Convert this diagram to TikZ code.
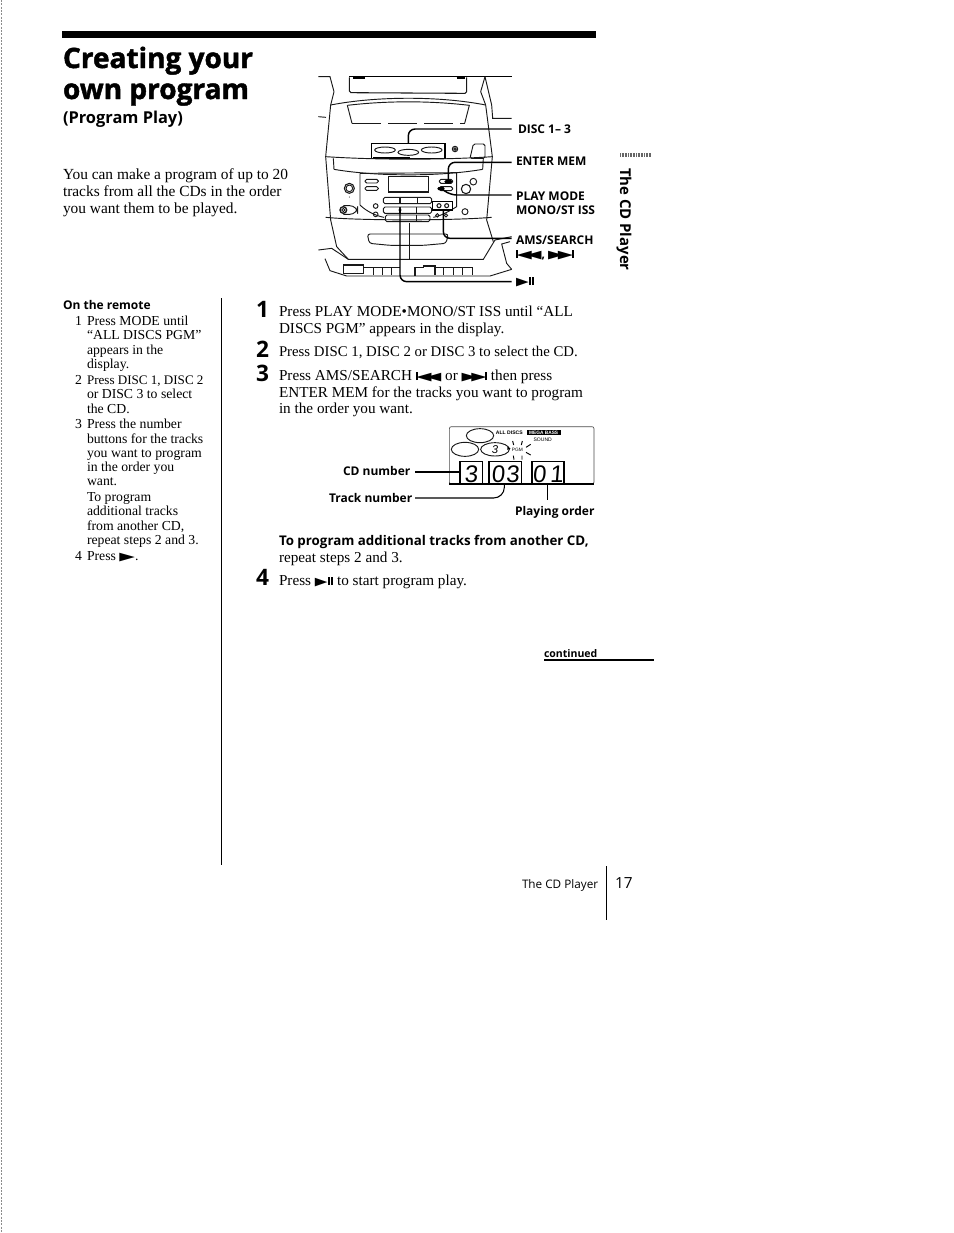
\documentclass[tikz,border=0pt]{standalone}
\usepackage{graphicx}
\usepackage{fontspec}
\setmainfont{Liberation Serif}
\newfontfamily\hd{Open Sans}
\newfontfamily\hdx{Open Sans}[BoldFeatures={FakeBold=1.6}]
\newfontfamily\sym{DejaVu Sans}
\newfontfamily\dgt{Liberation Sans}
\newcommand{\prevS}{\scalebox{1.75}[1]{\sym\rule{0.09em}{0.7em}\kern-0.06em ◀\kern-0.28em◀}}
\newcommand{\nextS}{\scalebox{1.75}[1]{\sym ▶\kern-0.28em▶\kern-0.06em\rule{0.09em}{0.7em}}}
\newcommand{\playS}{\scalebox{1.45}[1]{\sym ▶\kern0.02em\rule{0.12em}{0.7em}\kern0.09em\rule{0.12em}{0.7em}}}
\tikzset{
 lbl/.style={inner sep=0pt,outer sep=0pt,anchor=base west},
 bodyt/.style={lbl,font=\fontsize{11.4}{13}\selectfont},
 remt/.style={lbl,font=\fontsize{10.3}{12}\selectfont},
 boldl/.style={lbl,font=\hd\bfseries\fontsize{9}{11}\selectfont},
 stepn/.style={lbl,font=\hd\bfseries\fontsize{17}{20}\selectfont},
 thin1/.style={line width=0.45pt},
 lead/.style={line width=1.1pt,rounded corners=5pt},
 dev/.style={line width=0.7pt,black!90},
 devr/.style={dev,rounded corners=1.2pt},
 seg/.style={lbl,anchor=base,font=\dgt\fontsize{18}{18}\selectfont,xslant=0.08},
}
\begin{document}
\begin{tikzpicture}[x=0.75pt,y=-0.75pt]
\fill[white] (0,0) rectangle (954,1233);
\useasboundingbox (0,0) rectangle (954,1233);
% scan edge
\draw[black!45,line width=0.6pt,dash pattern=on 1.5pt off 1pt] (1,0) -- (1,1233);
% header
\fill[black] (62,31) rectangle (596,38);
\node[lbl,font=\hdx\bfseries\fontsize{21}{26}\selectfont] (title1) at (63,68) {Creating your};
\node[lbl,font=\hdx\bfseries\fontsize{21}{26}\selectfont] (title2) at (63,99) {own program};
\node[lbl,font=\hd\bfseries\fontsize{12.3}{14}\selectfont] (subt) at (63,123) {(Program Play)};
\node[bodyt,font=\fontsize{11.55}{13}\selectfont] (i1) at (63,179) {You can make a program of up to 20};
\node[bodyt,font=\fontsize{11.55}{13}\selectfont] (i2) at (63,196.5) {tracks from all the CDs in the order};
\node[bodyt,font=\fontsize{11.55}{13}\selectfont] (i3) at (63,213) {you want them to be played.};
% remote column
\node[boldl] (rh) at (63,309) {On the remote};
\draw[thin1] (221,298) -- (221,865);
\node[remt] (r1n) at (75,325) {1};
\node[remt] (r1a) at (87,325) {Press MODE until};
\node[remt] (r1b) at (87,339.5) {“ALL DISCS PGM”};
\node[remt] (r1c) at (87,354) {appears in the};
\node[remt] (r1d) at (87,368.5) {display.};
\node[remt] (r2n) at (75,384) {2};
\node[remt,font=\fontsize{9.8}{12}\selectfont] (r2a) at (87,384) {Press DISC 1, DISC 2};
\node[remt] (r2b) at (87,398.5) {or DISC 3 to select};
\node[remt] (r2c) at (87,413) {the CD.};
\node[remt] (r3n) at (75,428) {3};
\node[remt] (r3a) at (87,428) {Press the number};
\node[remt] (r3b) at (87,443) {buttons for the tracks};
\node[remt] (r3c) at (87,457) {you want to program};
\node[remt] (r3d) at (87,471) {in the order you};
\node[remt] (r3e) at (87,485.5) {want.};
\node[remt] (r3f) at (87,501) {To program};
\node[remt] (r3g) at (87,515.5) {additional tracks};
\node[remt] (r3h) at (87,530) {from another CD,};
\node[remt] (r3i) at (87,544.5) {repeat steps 2 and 3.};
\node[remt] (r4n) at (75,560) {4};
\node[remt] (r4a) at (87,560) {Press \scalebox{1.6}[0.9]{\sym\fontsize{9.5}{9}\selectfont ▶}.};
% steps
\node[stepn] (s1) at (256,317) {1};
\node[stepn] (s2) at (256,357) {2};
\node[stepn] (s3) at (256,381) {3};
\node[stepn] (s4) at (256,585) {4};
\node[bodyt] (t1a) at (279,316) {Press PLAY MODE•MONO/ST ISS until “ALL};
\node[bodyt] (t1b) at (279,333) {DISCS PGM” appears in the display.};
\node[bodyt,font=\fontsize{11.1}{13}\selectfont] (t2a) at (279,356) {Press DISC 1, DISC 2 or DISC 3 to select the CD.};
\node[bodyt] (t3a) at (279,380) {Press AMS/SEARCH {\fontsize{8.5}{9}\selectfont\prevS} or {\fontsize{8.5}{9}\selectfont\nextS} then press};
\node[bodyt] (t3b) at (279,397) {ENTER MEM for the tracks you want to program};
\node[bodyt] (t3c) at (279,413) {in the order you want.};
\node[lbl,font=\hd\bfseries\fontsize{10}{12}\selectfont] (addh) at (279,545) {To program additional tracks from another CD,};
\node[bodyt] (addt) at (279,562) {repeat steps 2 and 3.};
\node[bodyt] (t4a) at (279,585) {Press {\fontsize{8.5}{9}\selectfont\playS} to start program play.};
% continued
\node[lbl,font=\hd\bfseries\fontsize{7.9}{10}\selectfont] (cont) at (544,657) {continued};
\draw[line width=0.8pt] (544,660) -- (654,660);
% footer
\node[lbl,font=\hd\fontsize{8.8}{11}\selectfont] (foot) at (522,888) {The CD Player};
\node[lbl,font=\hd\fontsize{11.5}{14}\selectfont] (pg) at (615,888) {17};
\draw[thin1] (606,866) -- (606,920);
% side tab
\draw[black!60,line width=3pt,dash pattern=on 0.7pt off 0.5pt] (620,155) -- (651,155);
\node[lbl,rotate=-90,font=\hd\bfseries\fontsize{11.2}{14}\selectfont] (side) at (620,168) {The CD Player};
% device, drawn in 3x coordinates
\begin{scope}[shift={(310,60)},x=0.25pt,y=-0.25pt]
 % handles and top
 \draw[dev] (25,50) -- (60,50) -- (72,95);
 \draw[dev] (525,50) -- (512,95);
 \draw[line width=0.8pt] (118,50) -- (605,50);
 \draw[line width=1.6pt] (130,53) -- (165,53) (440,53) -- (465,53);
 \draw[devr,line width=0.8pt] (118,52) -- (118,98) -- (470,100) -- (470,52);
 % cabinet
 \draw[dev] (72,95) -- (62,135) -- (47,290) -- (62,480);
 \draw[dev] (512,95) -- (527,135) -- (547,290) -- (530,480);
 \draw[dev] (525,50) -- (545,135) -- (548,175) -- (605,175);
 \draw[dev] (25,170) -- (48,172);
 \draw[dev] (62,135) .. controls (200,108) and (390,108) .. (527,135);
 % window
 \draw[dev] (112,136) .. controls (230,122) and (360,122) .. (478,136) -- (464,190);
 \draw[dev] (112,136) -- (126,190);
 \draw[dev,line width=0.4pt,dash pattern=on 22pt off 5pt] (126,190) -- (464,190);
 % disc panel
 \draw[line width=1.2pt,fill=white] (185,250) rectangle (405,296);
 \fill (188,291) rectangle (300,295);
 \draw[dev] (225,270) ellipse (31 and 9);
 \draw[dev] (295,277) ellipse (31 and 9);
 \draw[dev] (365,270) ellipse (31 and 9);
 \draw[dev,line width=0.8pt] (435,267) circle (8);
 \draw[dev] (435,267) circle (4);
 \draw[devr] (490,252) -- (525,252) -- (525,295) -- (480,295) -- cycle;
 % bands
 \draw[dev] (47,290) .. controls (200,300) and (400,300) .. (547,290);
 \draw[dev] (72,328) .. controls (200,350) and (390,350) .. (518,328);
 \draw[dev] (70,295) -- (72,328) (520,295) -- (518,328);
 % control panel
 \draw[dev] (150,340) -- (440,338) -- (440,440) .. controls (400,465) and (380,470) .. (370,472);
 \draw[dev] (150,340) -- (150,435) .. controls (170,455) and (200,468) .. (222,472);
 \draw[devr] (165,358) rectangle (205,369);
 \draw[devr] (165,380) rectangle (205,391);
 \draw[dev,line width=0.8pt] (235,350) rectangle (355,396);
 \draw[devr] (388,358) rectangle (428,370);
 \draw[devr] (388,380) rectangle (428,392);
 \fill (415,365) ellipse (12 and 6);
 \fill (393,386) ellipse (11 and 6);
 \draw[dev,line width=0.8pt] (118,385) circle (15);
 \draw[dev] (118,385) circle (10);
 \fill (118,411) circle (1.5);
 \draw[dev,line width=0.8pt] (468,387) circle (14);
 \draw[dev] (490,365) circle (10);
 \draw[dev,rounded corners=6pt] (100,437) -- (143,437) -- (143,463) -- (100,463);
 \draw[dev,line width=1pt] (100,450) circle (10);
 \draw[dev] (100,450) circle (5);
 \draw[dev] (465,455) circle (9);
 \draw[dev] (197,438) circle (7);
 \draw[dev] (197,463) circle (7);
 % cassette keys
 \draw[devr] (220,412) rectangle (365,431);
 \draw[devr] (220,441) rectangle (365,460);
 \draw[devr] (226,465) rectangle (360,485);
 \draw[dev,line width=0.8pt] (270,412) -- (270,431) (322,412) -- (322,431);
 \draw[dev,line width=0.8pt] (270,441) -- (270,460) (320,441) -- (320,460);
 \draw[dev,line width=0.8pt] (320,465) -- (320,485);
 \draw[line width=1.2pt,fill=white] (368,425) rectangle (428,450);
 \draw[dev,line width=0.8pt] (387,437) circle (6);
 \draw[dev,line width=0.8pt] (410,437) circle (6);
 \draw[dev] (382,466) circle (5);
 \draw[dev] (408,466) circle (5);
 % lower body
 \draw[dev] (47,472) .. controls (150,482) and (430,482) .. (545,472);
 \draw[dev,rounded corners=2pt] (172,522) -- (415,522) -- (408,550) -- (340,556) -- (240,556) -- (178,550) -- cycle;
 \draw[dev] (62,480) -- (80,560) -- (115,598) -- (520,598) -- (555,540) -- (605,530);
 \draw[dev] (25,570) -- (65,565) -- (115,598);
 \draw[dev] (530,480) -- (550,545);
 \draw[dev] (605,628) -- (590,610) -- (575,552) -- (600,545);
 \draw[dev] (45,596) -- (60,632) -- (110,648) -- (540,648) -- (605,628);
 \draw[dev,line width=0.8pt] (100,615) -- (160,615) -- (160,640) -- (100,640) -- cycle;
 \draw[dev,line width=0.8pt] (160,622) -- (270,622) (190,622) -- (190,645) (218,622) -- (218,645) (245,622) -- (245,645);
 \draw[dev,line width=0.8pt] (315,622) -- (340,622) -- (340,618) -- (375,618) -- (375,622) -- (488,622) -- (488,645);
 \draw[dev,line width=0.8pt] (315,622) -- (315,647) (375,622) -- (375,645) (400,622) -- (400,645) (430,622) -- (430,645) (458,622) -- (458,645);
 \draw[dev] (298,488) -- (298,598);
 % leaders
 \coordinate (ldisc) at (605,207);
 \coordinate (lenter) at (605,307);
 \coordinate (lplay) at (605,405);
 \coordinate (lams) at (605,535);
 \coordinate (lpp) at (605,665);
 \draw[lead] (295,250) -- (295,207) -- (ldisc);
 \draw[lead] (415,365) -- (415,307) -- (lenter);
 \draw[lead] (395,386) -- (420,405) -- (lplay);
 \draw[lead] (400,450) -- (400,535) -- (lams);
 \fill (270,450) circle (5);
 \draw[lead] (270,450) -- (270,665) -- (lpp);
\end{scope}
\node[boldl] (ld1) at (518,133.5) {DISC 1– 3};
\node[boldl] (ld2) at (516,165) {ENTER MEM};
\node[boldl] (ld3) at (516,200) {PLAY MODE};
\node[boldl] (ld4) at (516,214) {MONO/ST ISS};
\node[boldl] (ld5) at (516,244) {AMS/SEARCH};
\node[boldl] (ld6) at (516,258) {{\fontsize{8.5}{9}\selectfont\prevS}, {\fontsize{8.5}{9}\selectfont\nextS}};
\node[boldl] (ld7) at (516,285) {{\fontsize{8.5}{9}\selectfont\playS}};
% display diagram, 3x coordinates
\begin{scope}[shift={(320,415)},x=0.25pt,y=-0.25pt]
 \draw[line width=0.5pt,rounded corners=1.5pt,black!70] (388,35) rectangle (822,207);
 \draw[dev] (480,62) ellipse (41 and 21);
 \draw[dev] (435,103) ellipse (41 and 21);
 \draw[dev] (525,103) ellipse (43 and 20);
 \node[lbl,anchor=center,font=\dgt\itshape\fontsize{8.5}{9}\selectfont] (cd3) at (525,104) {3};
 \node[lbl,anchor=center,font=\dgt\bfseries\fontsize{3.8}{4}\selectfont] (alld) at (568,53) {ALL DISCS};
 \fill[black] (620,45) rectangle (722,60);
 \node[lbl,anchor=center,text=white,font=\dgt\bfseries\fontsize{3.6}{4}\selectfont] (mega) at (671,52.5) {MEGA BASS};
 \node[lbl,anchor=center,font=\dgt\fontsize{3.8}{4}\selectfont] (snd) at (668,73) {SOUND};
 \node[lbl,anchor=center,font=\dgt\fontsize{3.6}{4}\selectfont] (pgm) at (592,105) {PGM};
 \draw[line width=0.7pt] (578,78) -- (581,90) (607,78) -- (604,90) (632,88) -- (618,97) (632,120) -- (618,112) (580,122) -- (582,134) (606,122) -- (606,134);
 \fill (572,100) -- (562,95) -- (562,105) -- cycle;
 % digit boxes
 \draw[line width=0.9pt] (487,207) -- (487,140) -- (420,140) -- (420,207);
 \draw[line width=0.9pt] (605,207) -- (605,140) -- (507,140) -- (507,207);
 \draw[line width=0.9pt] (732,207) -- (732,140) -- (636,140) -- (636,207);
 \draw[line width=1pt] (388,207) -- (822,207);
 \node[seg] (d1) at (453,201) {3};
 \node[seg] (d2) at (556,201) {0\kern1pt 3};
 \node[seg] (d3) at (684,201) {0\kern3pt 1};
 \coordinate (lcd) at (285,171);
 \coordinate (ltr) at (285,249);
 \coordinate (lpo) at (683,255);
 \draw[line width=1pt] (lcd) -- (420,171);
 \draw[line width=0.8pt,rounded corners=8pt] (ltr) -- (553,249) -- (553,210);
 \draw[line width=0.8pt] (683,207) -- (lpo);
\end{scope}
\node[boldl] (lcdn) at (343,475) {CD number};
\node[boldl] (ltrn) at (329,502) {Track number};
\node[boldl] (lpon) at (515,515) {Playing order};
\end{tikzpicture}
\end{document}
